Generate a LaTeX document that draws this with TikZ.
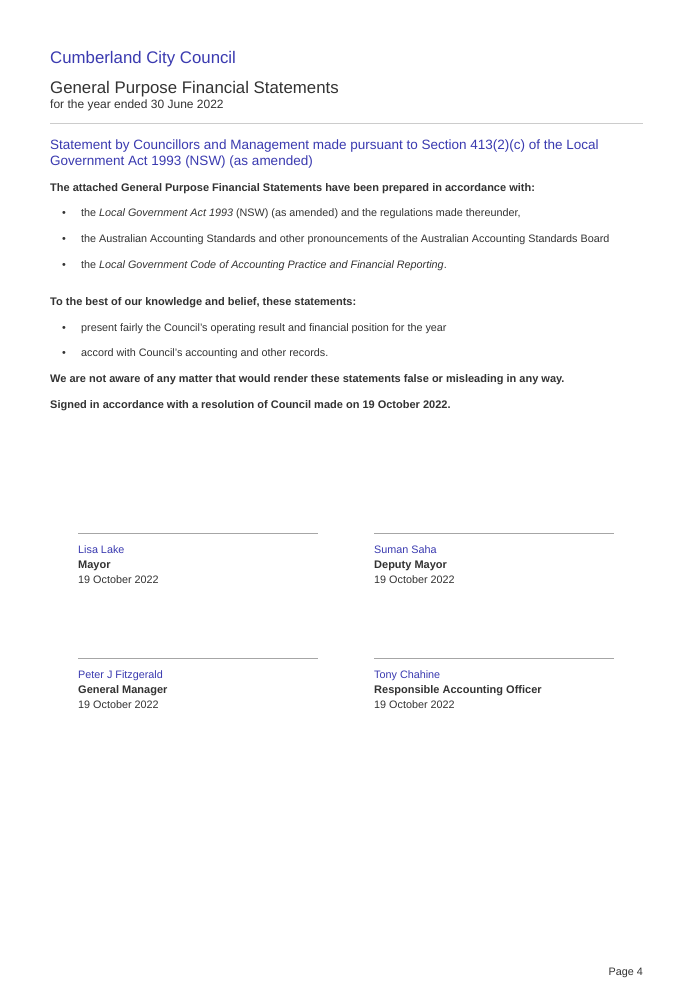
\documentclass[tikz,border=0pt]{standalone}
\usepackage{fontspec}
\setmainfont{Liberation Sans}
\usepackage{xcolor}
\definecolor{cblue}{HTML}{3A3AB0}
\definecolor{ctext}{HTML}{333333}
\tikzset{
  txt/.style={anchor=base west,inner sep=0pt,text=ctext,font=\fontsize{10.8}{13}\selectfont},
  bold/.style={txt,font=\fontsize{11}{13}\selectfont\bfseries},
  head/.style={txt,text=cblue,font=\fontsize{13.5}{16}\selectfont},
  bul/.style={txt},
  sig/.style={draw=gray!70,line width=0.6pt}
}
\begin{document}
\begin{tikzpicture}[x=1pt,y=-1pt]
\useasboundingbox[fill=white] (0,0) rectangle (694,989);

\node[txt,text=cblue,font=\fontsize{16.8}{20}\selectfont] (council) at (50,63) {Cumberland City Council};
\node[txt,font=\fontsize{16.8}{20}\selectfont] (gpfs) at (50,93) {General Purpose Financial Statements};
\node[txt,font=\fontsize{12}{14}\selectfont] (year) at (50,108) {for the year ended 30 June 2022};
\draw[gray!40,line width=0.8pt] (50,123) -- (643,123);

\node[head] (h1) at (50,149) {Statement by Councillors and Management made pursuant to Section 413(2)(c) of the Local};
\node[head] (h2) at (50,165) {Government Act 1993 (NSW) (as amended)};

\node[bold] (att) at (50,191) {The attached General Purpose Financial Statements have been prepared in accordance with:};
\foreach \y/\t in {216/{the \textit{Local Government Act 1993} (NSW) (as amended) and the regulations made thereunder,},
                   242/{the Australian Accounting Standards and other pronouncements of the Australian Accounting Standards Board},
                   268/{the \textit{Local Government Code of Accounting Practice and Financial Reporting}.},
                   331/{present fairly the Council’s operating result and financial position for the year},
                   356/{accord with Council’s accounting and other records.}}{
  \node[bul] at (62,\y) {•};
  \node[bul] at (81,\y) {\t};
}
\node[bold] (best) at (50,305) {To the best of our knowledge and belief, these statements:};
\node[bold] (aware) at (50,382) {We are not aware of any matter that would render these statements false or misleading in any way.};
\node[bold] (signed) at (50,408) {Signed in accordance with a resolution of Council made on 19 October 2022.};

% signatures
\foreach \x/\y/\n/\r in {78/533/Lisa Lake/Mayor, 374/533/Suman Saha/Deputy Mayor,
                         78/658/Peter J Fitzgerald/General Manager, 374/658/Tony Chahine/Responsible Accounting Officer}{
  \draw[sig] (\x,\y) -- ++(240,0);
  \node[txt,text=cblue] at (\x,\y+20) {\n};
  \node[bold] at (\x,\y+35) {\r};
  \node[txt] at (\x,\y+50) {19 October 2022};
}

\node[txt,anchor=base east] (page) at (643,975) {Page 4};
\end{tikzpicture}
\end{document}
